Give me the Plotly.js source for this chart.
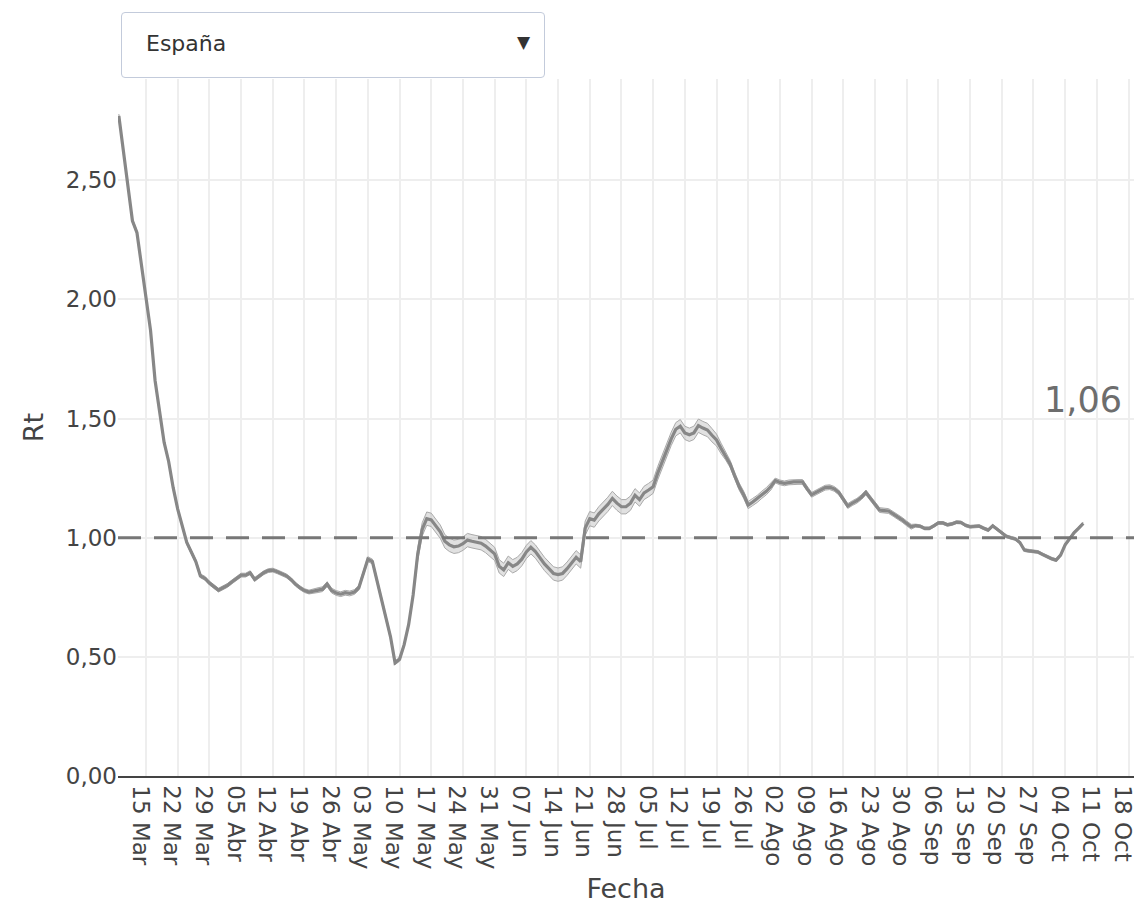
<!DOCTYPE html>
<html><head><meta charset="utf-8">
<script src="https://cdn.plot.ly/plotly-3.0.1.min.js"></script>
<style>
html,body{margin:0;padding:0;background:#fff;}
#wrap{position:relative;width:1137px;height:905px;}
#chart{position:absolute;left:0;top:0;width:1137px;height:905px;}
#dd{position:absolute;left:121px;top:12px;width:422px;height:64px;border:1px solid #c3cbdb;border-radius:4px;background:#fff;font-family:'DejaVu Sans';font-size:22px;color:#333;z-index:5;}
#dd .lbl{position:absolute;left:24px;top:0;line-height:62px;}
#dd .arr{position:absolute;right:14px;top:0;line-height:58px;font-size:17px;color:#333;}
</style></head>
<body><div id="wrap"><div id="chart"></div><div id="dd"><span class="lbl">España</span><span class="arr">▼</span></div></div>
<script>
const startDate = '2020-03-09';
const rt = [
 // Mar 9-31
 2.77,2.63,2.47,2.33,2.28,2.15,2.00,1.87,1.66,1.53,1.40,1.32,1.21,1.12,1.05,0.98,0.94,0.90,0.84,0.83,0.81,0.795,0.78,
 // Apr
 0.79,0.80,0.815,0.83,0.843,0.843,0.853,0.825,0.84,0.853,0.862,0.864,0.857,0.85,0.84,0.825,0.805,0.79,0.778,0.772,0.776,0.78,0.784,0.805,0.778,0.768,0.763,0.769,0.766,0.772,
 // May
 0.79,0.85,0.91,0.90,0.82,0.74,0.66,0.584,0.475,0.49,0.55,0.635,0.76,0.93,1.035,1.08,1.075,1.05,1.025,0.985,0.97,0.962,0.965,0.975,0.99,0.985,0.98,0.977,0.965,0.95,0.932,
 // Jun
 0.88,0.865,0.895,0.88,0.89,0.91,0.94,0.96,0.942,0.915,0.89,0.87,0.85,0.845,0.85,0.87,0.893,0.918,0.90,1.04,1.08,1.074,1.10,1.12,1.14,1.165,1.145,1.13,1.13,1.145,
 // Jul
 1.178,1.16,1.188,1.20,1.214,1.27,1.32,1.37,1.415,1.455,1.468,1.44,1.432,1.44,1.47,1.46,1.452,1.43,1.41,1.375,1.345,1.31,1.26,1.215,1.18,1.137,1.15,1.163,1.18,1.195,1.215,
 // Aug
 1.24,1.232,1.228,1.232,1.234,1.234,1.234,1.205,1.18,1.19,1.20,1.21,1.212,1.205,1.19,1.16,1.133,1.145,1.155,1.17,1.19,1.165,1.14,1.116,1.114,1.112,1.10,1.088,1.075,1.06,1.046,
 // Sep
 1.051,1.048,1.039,1.039,1.05,1.062,1.062,1.054,1.058,1.065,1.064,1.052,1.046,1.048,1.049,1.040,1.032,1.05,1.035,1.018,1.006,1.0,0.995,0.98,0.948,0.945,0.943,0.94,0.93,0.92,
 // Oct 1-8
 0.912,0.906,0.927,0.97,0.995,1.022,1.04,1.06
];
const ciHalf = [
 // Mar
 0.008,0.008,0.008,0.008,0.008,0.008,0.008,0.008,0.008,0.008,0.008,0.008,0.008,0.008,0.008,0.008,0.008,0.008,0.008,0.008,0.008,0.008,0.008,
 // Apr
 0.008,0.008,0.008,0.008,0.008,0.008,0.008,0.008,0.008,0.008,0.008,0.008,0.008,0.008,0.008,0.008,0.008,0.008,0.008,0.008,0.01,0.01,0.01,0.01,0.01,0.01,0.01,0.01,0.01,0.01,
 // May
 0.01,0.01,0.01,0.01,0.01,0.01,0.01,0.01,0.008,0.008,0.008,0.008,0.008,0.028,0.028,0.028,0.028,0.028,0.028,0.028,0.028,0.028,0.028,0.028,0.028,0.028,0.028,0.028,0.028,0.028,0.028,
 // Jun
 0.028,0.028,0.028,0.028,0.028,0.028,0.028,0.028,0.028,0.028,0.028,0.028,0.028,0.028,0.028,0.028,0.028,0.028,0.028,0.03,0.03,0.03,0.03,0.03,0.03,0.03,0.03,0.03,0.03,0.03,
 // Jul
 0.028,0.028,0.028,0.028,0.028,0.028,0.028,0.028,0.028,0.028,0.028,0.028,0.028,0.028,0.028,0.028,0.028,0.028,0.025,0.022,0.018,0.015,0.015,0.015,0.015,0.015,0.015,0.015,0.015,0.015,0.015,
 // Aug
 0.01,0.01,0.01,0.01,0.01,0.01,0.01,0.01,0.01,0.01,0.01,0.01,0.01,0.01,0.01,0.01,0.01,0.01,0.01,0.01,0.01,0.01,0.01,0.01,0.01,0.01,0.01,0.01,0.01,0.01,0.01,
 // Sep
 0.006,0.006,0.006,0.006,0.006,0.006,0.006,0.006,0.006,0.006,0.006,0.006,0.006,0.006,0.006,0.006,0.006,0.006,0.006,0.006,0.006,0.006,0.006,0.006,0.006,0.006,0.006,0.006,0.006,0.006,
 // Oct
 0.006,0.006,0.006,0.006,0.006,0.006,0.006,0.006
];
const tickDates = ['2020-03-15','2020-03-22','2020-03-29','2020-04-05','2020-04-12','2020-04-19','2020-04-26','2020-05-03','2020-05-10','2020-05-17','2020-05-24','2020-05-31','2020-06-07','2020-06-14','2020-06-21','2020-06-28','2020-07-05','2020-07-12','2020-07-19','2020-07-26','2020-08-02','2020-08-09','2020-08-16','2020-08-23','2020-08-30','2020-09-06','2020-09-13','2020-09-20','2020-09-27','2020-10-04','2020-10-11','2020-10-18'];
const tickLabels = ['15 Mar','22 Mar','29 Mar','05 Abr','12 Abr','19 Abr','26 Abr','03 May','10 May','17 May','24 May','31 May','07 Jun','14 Jun','21 Jun','28 Jun','05 Jul','12 Jul','19 Jul','26 Jul','02 Ago','09 Ago','16 Ago','23 Ago','30 Ago','06 Sep','13 Sep','20 Sep','27 Sep','04 Oct','11 Oct','18 Oct'];
const yTicks = [0,0.5,1,1.5,2,2.5];
const threshold = 1;

// daily dates
const dates = [];
{
  const d0 = new Date(startDate + 'T00:00:00Z');
  for (let i = 0; i < rt.length; i++) {
    const d = new Date(d0.getTime() + i * 86400000);
    dates.push(d.toISOString().slice(0,10));
  }
}
const lower = rt.map((v,i)=>v - ciHalf[i]);
const upper = rt.map((v,i)=>v + ciHalf[i]);
const lastDate = dates[dates.length-1];
const lastVal = rt[rt.length-1];

const traces = [
  {x:dates, y:lower, type:'scatter', mode:'lines', line:{color:'#aaaaaa', width:1}, hoverinfo:'skip'},
  {x:dates, y:upper, type:'scatter', mode:'lines', fill:'tonexty', fillcolor:'rgba(175,175,175,0.38)', line:{color:'#aaaaaa', width:1}, hoverinfo:'skip'},
  {x:dates, y:rt, type:'scatter', mode:'lines', name:'España', line:{color:'#878787', width:3.2}}
];

const layout = {
  width:1137, height:905,
  margin:{l:118, r:3, t:79, b:129},
  paper_bgcolor:'#ffffff', plot_bgcolor:'#ffffff',
  font:{family:'DejaVu Sans', color:'#444', size:23},
  separators:',.',
  showlegend:false,
  xaxis:{
    type:'date', range:['2020-03-08 19:30','2020-10-19 05:00'],
    tickvals:tickDates, ticktext:tickLabels, tickangle:90,
    ticklabeloverflow:'allow', ticklabelshift:-6, ticklabelstandoff:3,
    gridcolor:'#eeeeee', gridwidth:2,
    showline:true, linecolor:'#444', linewidth:1.5, zeroline:false,
    ticks:'', tickfont:{size:23, color:'#444'},
    title:{text:'Fecha', font:{size:27, color:'#444'}, standoff:11}
  },
  yaxis:{
    range:[0,2.925], tickvals:yTicks, tickformat:'.2f',
    gridcolor:'#eeeeee', gridwidth:2, zeroline:false, showline:false,
    ticks:'', tickfont:{size:23, color:'#444'},
    title:{text:'Rt', font:{size:27, color:'#444'}, standoff:14}
  },
  shapes:[{type:'line', xref:'paper', x0:0, x1:1, yref:'y', y0:threshold, y1:threshold, layer:'above',
    line:{color:'#777777', width:3, dash:'23px,13px'}}],
  annotations:[{x:lastDate, y:1.58, xref:'x', yref:'y', text:lastVal.toFixed(2).replace('.', ','), showarrow:false,
    font:{size:35, color:'#6d6d6d'}}]
};

Plotly.newPlot('chart', traces, layout, {displayModeBar:false});
</script>
</body></html>
